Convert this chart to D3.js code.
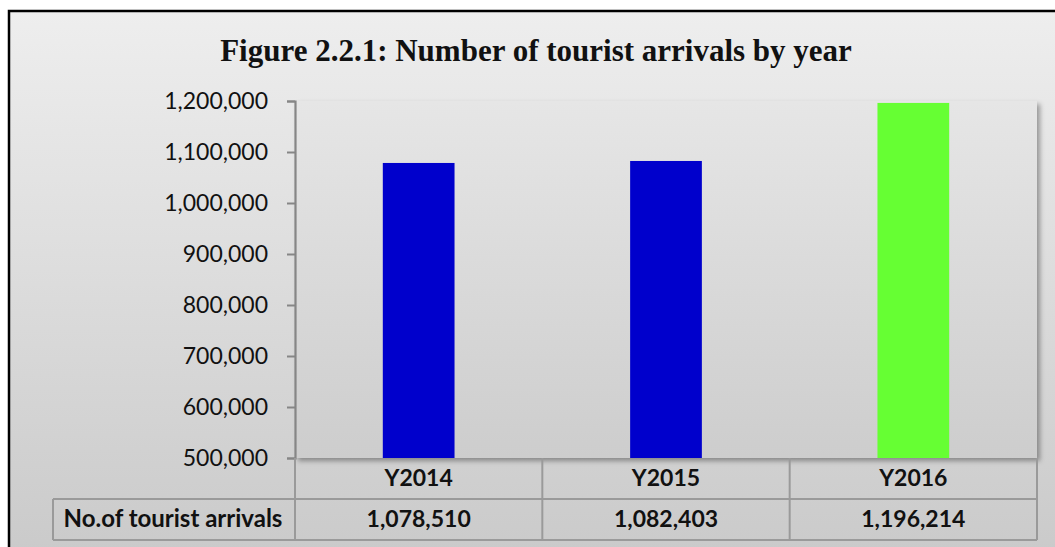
<!DOCTYPE html>
<html>
<head>
<meta charset="utf-8">
<script src="https://cdn.jsdelivr.net/npm/d3@7/dist/d3.min.js"></script>
<style>
  html, body { margin: 0; padding: 0; background: #ffffff; }
  svg { display: block; }
</style>
</head>
<body>
<svg id="chart" width="1055" height="547"></svg>
<script>
// Tourist arrivals per year
const categories = ["Y2014", "Y2015", "Y2016"];
const arrivals = [1078510, 1082403, 1196214];
const barColors = ["#0000CC", "#0000CC", "#66FF33"];
const yTicks = [500000, 600000, 700000, 800000, 900000, 1000000, 1100000, 1200000];
const seriesName = "No.of tourist arrivals";
const titleText = "Figure 2.2.1: Number of tourist arrivals by year";

const svg = d3.select("#chart");
const fmt = d3.format(",");

const defs = svg.append("defs");
const bgGrad = defs.append("linearGradient").attr("id", "bgGrad")
  .attr("x1", 0).attr("y1", 0).attr("x2", 0).attr("y2", 1);
bgGrad.append("stop").attr("offset", "0%").attr("stop-color", "#eeeeee");
bgGrad.append("stop").attr("offset", "100%").attr("stop-color", "#c9c9c9");

const plotGrad = defs.append("linearGradient").attr("id", "plotGrad")
  .attr("x1", 0).attr("y1", 0).attr("x2", 0).attr("y2", 1);
plotGrad.append("stop").attr("offset", "0%").attr("stop-color", "#e6e6e6");
plotGrad.append("stop").attr("offset", "100%").attr("stop-color", "#cdcdcd");

const shadow = defs.append("filter").attr("id", "shadow")
  .attr("x", "-5%").attr("y", "-5%").attr("width", "115%").attr("height", "115%");
shadow.append("feDropShadow").attr("dx", 3).attr("dy", 3).attr("stdDeviation", 2.5)
  .attr("flood-color", "#000").attr("flood-opacity", 0.35);

// Chart frame
svg.append("rect").attr("x", 9).attr("y", 11).attr("width", 1060).attr("height", 560)
  .attr("fill", "url(#bgGrad)").attr("stroke", "#000").attr("stroke-width", 2.5);

// Title
svg.append("text")
  .attr("x", 536).attr("y", 61)
  .attr("text-anchor", "middle")
  .attr("font-family", "'Liberation Serif', 'DejaVu Serif', serif")
  .attr("font-weight", "bold")
  .attr("font-size", 31)
  .attr("fill", "#111")
  .text(titleText);

// Plot area
const plot = { left: 295, top: 101, right: 1037, bottom: 458 };

const x = d3.scaleBand().domain(categories).range([plot.left, plot.right]).paddingInner(0).paddingOuter(0);
const y = d3.scaleLinear().domain([500000, 1200000]).range([plot.bottom, plot.top]);

svg.append("rect")
  .attr("x", plot.left).attr("y", plot.top)
  .attr("width", plot.right - plot.left).attr("height", plot.bottom - plot.top)
  .attr("fill", "url(#plotGrad)")
  .attr("filter", "url(#shadow)");

// Bars
const barW = x.bandwidth() * 0.29;
svg.append("g").selectAll("rect")
  .data(categories)
  .join("rect")
  .attr("x", (d) => x(d) + (x.bandwidth() - barW) / 2)
  .attr("y", (d, i) => y(arrivals[i]))
  .attr("width", barW)
  .attr("height", (d, i) => y(500000) - y(arrivals[i]))
  .attr("fill", (d, i) => barColors[i]);

// Y axis
const yAxis = d3.axisLeft(y).tickValues(yTicks).tickFormat(fmt).tickSize(8).tickPadding(19);
const gy = svg.append("g").attr("transform", `translate(${plot.left},0)`).call(yAxis);
gy.select(".domain").attr("stroke", "#868686").attr("stroke-width", 2.2);
gy.selectAll(".tick line").attr("stroke", "#868686").attr("stroke-width", 2);
gy.selectAll(".tick text")
  .attr("font-family", "Lato, 'Open Sans', sans-serif")
  .attr("font-size", 23)
  .attr("fill", "#111");

// Data table under the axis
const row1 = { top: 458, bottom: 499 };
const row2 = { top: 499, bottom: 540 };
const gridColor = "#9a9a9a";
const tbl = svg.append("g");

// Horizontal lines
tbl.append("line").attr("x1", plot.left).attr("x2", plot.right)
  .attr("y1", row1.bottom).attr("y2", row1.bottom);
tbl.append("line").attr("x1", 53).attr("x2", plot.right)
  .attr("y1", row2.bottom).attr("y2", row2.bottom);
tbl.append("line").attr("x1", 53).attr("x2", plot.left)
  .attr("y1", row2.top).attr("y2", row2.top);
tbl.append("line").attr("x1", 53).attr("x2", 53)
  .attr("y1", row2.top).attr("y2", row2.bottom);

// Vertical separators
const seps = categories.map((c) => x(c)).concat([plot.right]);
tbl.selectAll("line.sep").data(seps).join("line")
  .attr("class", "sep")
  .attr("x1", (d) => d).attr("x2", (d) => d)
  .attr("y1", row1.top).attr("y2", row2.bottom);
tbl.selectAll("line").attr("stroke", gridColor).attr("stroke-width", 2);

const cellFont = (sel) => sel
  .attr("font-family", "Lato, 'Open Sans', sans-serif")
  .attr("font-weight", "bold")
  .attr("font-size", 23)
  .attr("fill", "#111")
  .attr("text-anchor", "middle");

tbl.selectAll("text.cat").data(categories).join("text")
  .attr("class", "cat")
  .attr("x", (d) => x(d) + x.bandwidth() / 2)
  .attr("y", (row1.top + row1.bottom) / 2 + 7.5)
  .call(cellFont)
  .text((d) => d);

tbl.selectAll("text.val").data(categories).join("text")
  .attr("class", "val")
  .attr("x", (d) => x(d) + x.bandwidth() / 2)
  .attr("y", (row2.top + row2.bottom) / 2 + 7.5)
  .call(cellFont)
  .text((d, i) => fmt(arrivals[i]));

tbl.append("text")
  .attr("x", (53 + plot.left) / 2 - 1)
  .attr("y", (row2.top + row2.bottom) / 2 + 7.5)
  .call(cellFont)
  .attr("font-size", 24)
  .text(seriesName);
</script>
</body>
</html>
